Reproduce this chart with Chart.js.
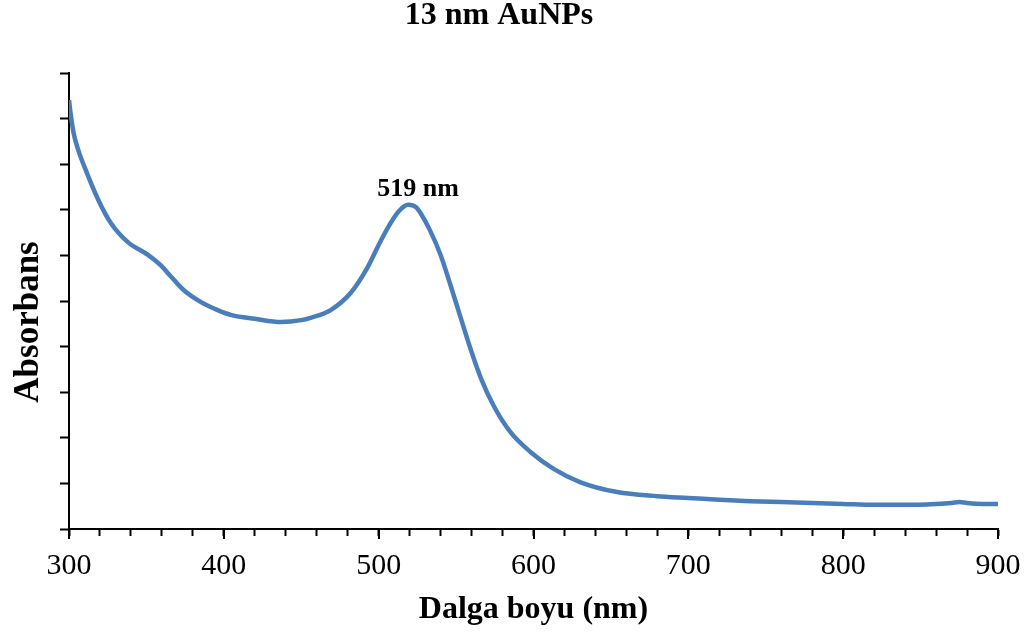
<!DOCTYPE html>
<html lang="tr">
<head>
    <meta charset="UTF-8">
    <title>13 nm AuNPs</title>
    <script src="https://cdn.jsdelivr.net/npm/chart.js"></script>
    <style>
        html, body { margin: 0; padding: 0; background: #fff; }
        #wrap { width: 1033px; height: 638px; }
    </style>
</head>
<body>
    <div id="wrap"><canvas id="spektrum"></canvas></div>

    <script>
        // UV-Vis spektrumu: dalga boyu (nm) ve absorbans
        const dalgaBoyu = [300, 301, 303, 306, 310, 319, 327, 338, 351, 359, 366, 374, 385, 396, 405,
            420, 437, 450, 456, 469, 482, 493, 500, 507, 513, 519, 524, 527, 533, 540, 546, 553,
            560, 566, 574, 585, 598, 613, 630, 654, 680, 700, 720, 740, 760, 780, 800, 820, 840,
            860, 870, 875, 880, 890, 900];
        const absorbans = [0.941, 0.912, 0.868, 0.831, 0.794, 0.721, 0.671, 0.629, 0.601, 0.579,
            0.553, 0.524, 0.498, 0.480, 0.469, 0.461, 0.454, 0.458, 0.463, 0.480, 0.518, 0.575,
            0.623, 0.667, 0.697, 0.711, 0.706, 0.693, 0.656, 0.601, 0.539, 0.463, 0.388, 0.331,
            0.272, 0.213, 0.169, 0.132, 0.103, 0.081, 0.072, 0.068, 0.064, 0.061, 0.059, 0.057,
            0.055, 0.053, 0.053, 0.055, 0.057, 0.059, 0.057, 0.055, 0.055];
        const xEtiketleri = [300, 400, 500, 600, 700, 800, 900];

        const tepeNm = 519;
        const tepeAbs = 0.711;

        const serif = "'Liberation Serif', 'Times New Roman', serif";

        // tepe etiketi, y ekseni başlığı ve x ekseninde 100 nm'lik uzun çentikler
        const ekCizimler = {
            id: "ekCizimler",
            afterDraw(chart) {
                const ctx = chart.ctx;
                const sx = chart.scales.x;
                const sy = chart.scales.y;
                const alt = chart.chartArea.bottom;
                ctx.save();
                ctx.strokeStyle = "#000";
                ctx.lineWidth = 2;
                xEtiketleri.forEach(v => {
                    const px = Math.round(sx.getPixelForValue(v));
                    ctx.beginPath();
                    ctx.moveTo(px, alt);
                    ctx.lineTo(px, alt + 10);
                    ctx.stroke();
                });
                ctx.fillStyle = "#000";
                ctx.textAlign = "center";
                ctx.textBaseline = "alphabetic";
                ctx.font = "bold 26px " + serif;
                ctx.fillText(tepeNm + " nm", sx.getPixelForValue(tepeNm) + 10, sy.getPixelForValue(tepeAbs) - 9);

                ctx.font = "bold 35px " + serif;
                ctx.textBaseline = "middle";
                ctx.translate(29, 322);
                ctx.rotate(-Math.PI / 2);
                ctx.fillText("Absorbans", 0, 0);
                ctx.restore();
            }
        };

        new Chart(document.getElementById("spektrum"), {
            type: "line",
            data: {
                datasets: [{
                    data: dalgaBoyu.map((d, i) => ({ x: d, y: absorbans[i] })),
                    borderColor: "#4a7ebb",
                    borderWidth: 4.5,
                    pointRadius: 0,
                    cubicInterpolationMode: "monotone",
                    fill: false
                }]
            },
            options: {
                responsive: true,
                maintainAspectRatio: false,
                animation: false,
                layout: { padding: { left: 0, right: 35, top: 0, bottom: 0 } },
                plugins: {
                    legend: { display: false },
                    tooltip: { enabled: false },
                    title: {
                        display: true,
                        text: "13 nm AuNPs",
                        color: "#000",
                        font: { family: serif, size: 32, weight: "bold", lineHeight: 1.0 },
                        padding: { top: 0, bottom: 41 }
                    }
                },
                scales: {
                    x: {
                        type: "linear",
                        min: 300,
                        max: 900,
                        afterFit: s => { s.height = 109; },
                        border: { color: "#000", width: 2 },
                        grid: {
                            drawOnChartArea: false,
                            drawTicks: true,
                            tickLength: 7,
                            tickColor: "#000",
                            tickWidth: 2
                        },
                        ticks: {
                            stepSize: 20,
                            autoSkip: false,
                            maxRotation: 0,
                            color: "#000",
                            padding: 12,
                            font: { family: serif, size: 30 },
                            callback: v => xEtiketleri.includes(v) ? v : ""
                        },
                        title: {
                            display: true,
                            text: "Dalga boyu (nm)",
                            color: "#000",
                            font: { family: serif, size: 32, weight: "bold" },
                            padding: { top: 0, bottom: 9 }
                        }
                    },
                    y: {
                        min: 0,
                        max: 1,
                        afterFit: s => { s.width = 69; },
                        border: { color: "#000", width: 2 },
                        grid: {
                            drawOnChartArea: false,
                            drawTicks: true,
                            tickLength: 9,
                            tickColor: "#000",
                            tickWidth: 2
                        },
                        ticks: { stepSize: 0.1, display: false }
                    }
                }
            },
            plugins: [ekCizimler]
        });
    </script>
</body>
</html>
